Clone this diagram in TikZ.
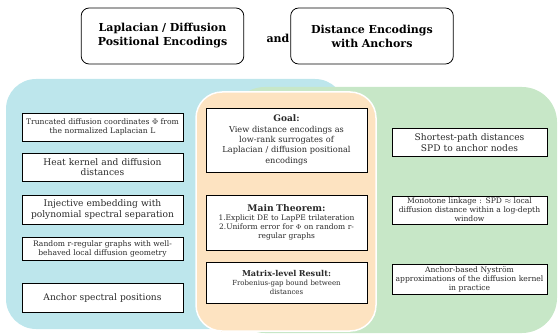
\documentclass[tikz,border=0pt]{standalone}
\usepackage{fontspec}
\setmainfont{DejaVu Serif}
\usetikzlibrary{positioning}

\definecolor{blueback}{HTML}{BDE6EC}
\definecolor{orangeback}{HTML}{FDE3C1}
\definecolor{greenback}{HTML}{C7E7C7}
\definecolor{inktext}{HTML}{2A2A2A}

\newcommand{\tinytext}{\fontsize{7.6}{8.9}\selectfont}
\newcommand{\smalltext}{\fontsize{9.1}{10.6}\selectfont}

\tikzset{
  headbox/.style={draw, rounded corners=8pt, line width=0.8pt, fill=white,
    align=center, minimum width=160pt, minimum height=56pt,
    text width=156pt, font=\fontsize{11}{14}\selectfont\bfseries},
  leftbox/.style={draw, fill=white, line width=0.6pt, align=center,
    minimum width=161pt, text width=159pt, inner sep=1pt, text=inktext},
  midbox/.style={leftbox, minimum width=161pt, text width=159pt},
  rightbox/.style={leftbox, minimum width=155pt, text width=153pt}
}

\begin{document}
\begin{tikzpicture}[x=1pt, y=-1pt]
  \useasboundingbox (0,0) rectangle (559,334);

  % background regions
  \fill[blueback, rounded corners=30pt] (6,79) rectangle (345,329);
  \fill[greenback, rounded corners=35pt] (230,87) rectangle (557,333);
  \draw[orangeback, fill=orangeback, rounded corners=26pt,
        line width=0pt] (196,92) rectangle (376,331);
  \draw[white, line width=1.5pt, rounded corners=26pt] (196,92) rectangle (376,331);

  % headings
  \node[headbox] (lappe) at (162.5,36) {Laplacian / Diffusion\\Positional Encodings};
  \node[font=\fontsize{11}{14}\selectfont\bfseries] (and) at (278,38) {and};
  \node[headbox] (dist) at (372,36) {Distance Encodings\\with Anchors};

  % left column
  \node[leftbox, minimum height=28pt, font=\tinytext] (trunc) at (102.5,127)
    {Truncated diffusion coordinates $\Phi$ from\\the normalized Laplacian L};
  \node[leftbox, minimum height=28pt, font=\smalltext] (heat) at (102.5,167)
    {Heat kernel and diffusion\\distances};
  \node[leftbox, minimum height=29pt, font=\smalltext] (inject) at (102.5,209.5)
    {Injective embedding with\\polynomial spectral separation};
  \node[leftbox, minimum height=23pt, font=\tinytext] (random) at (102.5,249)
    {Random r-regular graphs with well-\\behaved local diffusion geometry};
  \node[leftbox, minimum height=29pt, font=\smalltext] (anchor) at (102.5,297.5)
    {Anchor spectral positions};

  % middle column
  \node[midbox, minimum height=64pt, font=\fontsize{8.2}{10.4}\selectfont] (goal) at (286.5,140)
    {{\fontsize{9}{11}\selectfont\bfseries Goal:}\\View distance encodings as\\low-rank surrogates of\\Laplacian / diffusion positional\\encodings};
  \node[midbox, minimum height=55pt, font=\fontsize{7.5}{8.9}\selectfont] (theorem) at (286.5,222.5)
    {{\fontsize{9.2}{11}\selectfont\bfseries Main Theorem:}\\1.Explicit DE to LapPE trilateration\\2.Uniform error for $\Phi$ on random r-\\regular graphs};
  \node[midbox, minimum height=41pt, font=\fontsize{7}{8.6}\selectfont] (matrix) at (286.5,282.5)
    {{\fontsize{8.1}{10.5}\selectfont\bfseries Matrix-level Result:}\\Frobenius-gap bound between\\distances};

  % right column
  \node[rightbox, minimum height=28pt, font=\smalltext] (spd) at (469.5,142.5)
    {Shortest-path distances\\SPD to anchor nodes};
  \node[rightbox, minimum height=28pt, font=\tinytext] (mono) at (469.5,210)
    {Monotone linkage : SPD $\approx$ local\\diffusion distance within a log-depth\\window};
  \node[rightbox, minimum height=30pt, font=\tinytext] (nystrom) at (469.5,279)
    {Anchor-based Nystr\"om\\approximations of the diffusion kernel\\in practice};
\end{tikzpicture}
\end{document}
